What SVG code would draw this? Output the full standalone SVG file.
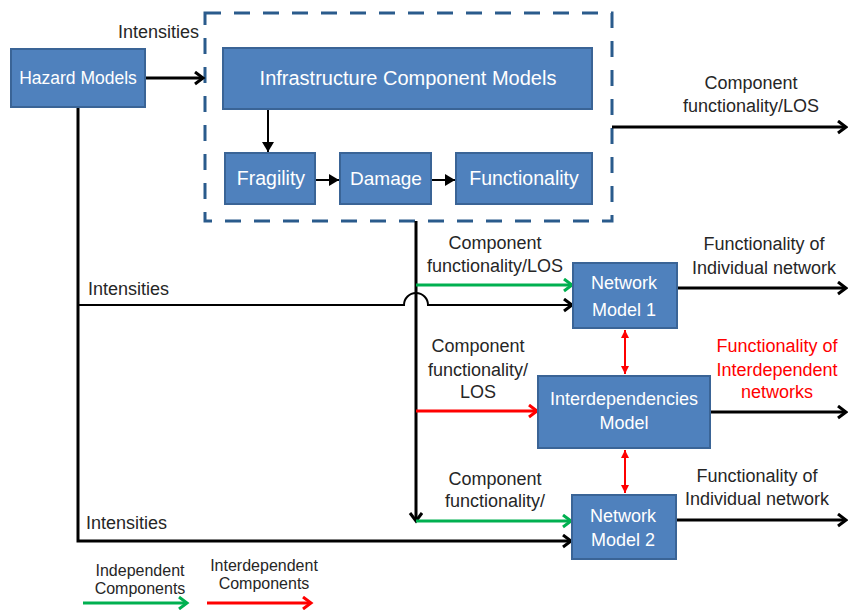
<svg xmlns="http://www.w3.org/2000/svg" width="848" height="610" viewBox="0 0 848 610">
<style>
.box{fill:#4f81bd;stroke:#3a6496;stroke-width:2}
.bt{fill:#ffffff;font-family:"Liberation Sans",Arial,sans-serif;text-anchor:middle}
.lb{fill:#262626;font-family:"Liberation Sans",Arial,sans-serif;font-size:18px;text-anchor:middle}
.lg{fill:#262626;font-family:"Liberation Sans",Arial,sans-serif;font-size:16px;text-anchor:middle}
.red{fill:#ff0000}
.k3{stroke:#000;stroke-width:3;fill:none}
.k2{stroke:#000;stroke-width:2;fill:none}
.g3{stroke:#00b050;stroke-width:3;fill:none}
.r3{stroke:#ff0000;stroke-width:3;fill:none}
.r2{stroke:#ff0000;stroke-width:2;fill:none}
</style>
<defs>
<marker id="ak" markerUnits="userSpaceOnUse" markerWidth="14" markerHeight="16" refX="10" refY="7" orient="auto"><path d="M2,1 L10,7 L2,13" fill="none" stroke="#000" stroke-width="3"/></marker>
<marker id="ag" markerUnits="userSpaceOnUse" markerWidth="14" markerHeight="16" refX="10" refY="7" orient="auto"><path d="M2,1 L10,7 L2,13" fill="none" stroke="#00b050" stroke-width="3"/></marker>
<marker id="ar" markerUnits="userSpaceOnUse" markerWidth="14" markerHeight="16" refX="10" refY="7" orient="auto"><path d="M2,1 L10,7 L2,13" fill="none" stroke="#ff0000" stroke-width="3"/></marker>
<marker id="tk" markerUnits="userSpaceOnUse" markerWidth="12" markerHeight="12" refX="10" refY="6" orient="auto"><path d="M0,0 L10,6 L0,12 Z" fill="#000"/></marker>
<marker id="tr" markerUnits="userSpaceOnUse" markerWidth="10" markerHeight="10" refX="8" refY="4" orient="auto-start-reverse"><path d="M0,0 L8,4 L0,8 Z" fill="#ff0000"/></marker>
</defs>
<rect width="848" height="610" fill="#ffffff"/>

<rect id="container" x="205" y="13" width="407" height="208" fill="none" stroke="#2a5b8c" stroke-width="3" stroke-dasharray="16 13"/>

<g id="connectors">
<path class="k3" d="M145,78 H203" marker-end="url(#ak)"/>
<path class="k2" d="M268,109 V152" marker-end="url(#tk)"/>
<path class="k2" d="M315,180 H339" marker-end="url(#tk)"/>
<path class="k2" d="M431,180 H455" marker-end="url(#tk)"/>
<path class="k3" d="M612,127 H846" marker-end="url(#ak)"/>
<path class="k3" d="M416,221 V521" marker-end="url(#ak)"/>
<path class="g3" d="M416,285 H572" marker-end="url(#ag)"/>
<path class="r3" d="M416,411 H537" marker-end="url(#ar)"/>
<path class="g3" d="M416,521 H571" marker-end="url(#ag)"/>
<path class="k2" d="M78,305 H404 A12,12 0 0 1 428,305 H572" marker-end="url(#ak)"/>
<path class="k3" d="M78,107 V541 H571" marker-end="url(#ak)"/>
<path class="k3" d="M677,288 H846" marker-end="url(#ak)"/>
<path class="k3" d="M710,412 H846" marker-end="url(#ak)"/>
<path class="k3" d="M676,520 H846" marker-end="url(#ak)"/>
<path class="r2" d="M625,330 V374" marker-start="url(#tr)" marker-end="url(#tr)"/>
<path class="r2" d="M625,450 V493" marker-start="url(#tr)" marker-end="url(#tr)"/>
<path class="g3" d="M83,603 H187" marker-end="url(#ag)"/>
<path class="r3" d="M207,603 H311" marker-end="url(#ar)"/>
</g>

<g id="hazard"><rect class="box" x="11" y="49" width="134" height="58"/><text class="bt" x="78" y="84" font-size="17.5">Hazard Models</text></g>
<g id="icm"><rect class="box" x="223" y="48" width="369" height="61"/><text class="bt" x="408" y="85" font-size="20">Infrastructure Component Models</text></g>
<g id="fragility"><rect class="box" x="225" y="153" width="90" height="51"/><text class="bt" x="271" y="185" font-size="19.5">Fragility</text></g>
<g id="damage"><rect class="box" x="340" y="153" width="91" height="51"/><text class="bt" x="386" y="185" font-size="19">Damage</text></g>
<g id="functionality"><rect class="box" x="456" y="153" width="136" height="51"/><text class="bt" x="524" y="185" font-size="19.5">Functionality</text></g>
<g id="nm1"><rect class="box" x="573" y="263" width="104" height="65"/><text class="bt" x="624" y="289" font-size="18">Network</text><text class="bt" x="624" y="316" font-size="18">Model 1</text></g>
<g id="interdep"><rect class="box" x="538" y="376" width="172" height="72"/><text class="bt" x="624" y="405" font-size="18">Interdependencies</text><text class="bt" x="624" y="429" font-size="18">Model</text></g>
<g id="nm2"><rect class="box" x="572" y="495" width="104" height="64"/><text class="bt" x="623" y="522" font-size="18">Network</text><text class="bt" x="623" y="546" font-size="18">Model 2</text></g>

<g id="labels">
<text class="lb" x="199" y="38" style="text-anchor:end">Intensities</text>
<text class="lb" x="751" y="89">Component</text>
<text class="lb" x="751" y="112">functionality/LOS</text>
<text class="lb" x="495" y="249">Component</text>
<text class="lb" x="495" y="272">functionality/LOS</text>
<text class="lb" x="764" y="250">Functionality of</text>
<text class="lb" x="764" y="274">Individual network</text>
<text class="lb" x="88" y="295" style="text-anchor:start">Intensities</text>
<text class="lb" x="478" y="352">Component</text>
<text class="lb" x="478" y="376">functionality/</text>
<text class="lb" x="478" y="398">LOS</text>
<text class="lb red" x="777" y="352">Functionality of</text>
<text class="lb red" x="777" y="376">Interdependent</text>
<text class="lb red" x="777" y="398">networks</text>
<text class="lb" x="495" y="485">Component</text>
<text class="lb" x="495" y="507">functionality/</text>
<text class="lb" x="757" y="482">Functionality of</text>
<text class="lb" x="757" y="505">Individual network</text>
<text class="lb" x="86" y="529" style="text-anchor:start">Intensities</text>
<text class="lg" x="140" y="576">Independent</text>
<text class="lg" x="140" y="594">Components</text>
<text class="lg" x="264" y="571">Interdependent</text>
<text class="lg" x="264" y="589">Components</text>
</g>
</svg>
